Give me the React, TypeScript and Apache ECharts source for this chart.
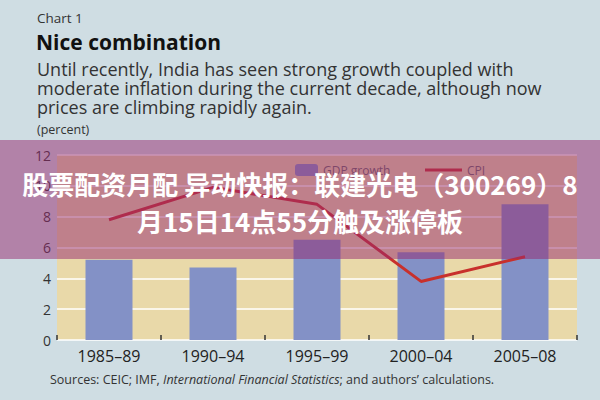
import React, { useEffect, useRef } from "react";
import * as echarts from "echarts";

const categories = ["1985–89", "1990–94", "1995–99", "2000–04", "2005–08"];
const gdpGrowth = [5.2, 4.7, 6.5, 5.7, 8.8];
const cpi = [7.8, 9.9, 8.8, 3.8, 5.4];
const yMin = 0;
const yMax = 12;
const yInterval = 2;

const chartLabel = "Chart 1";
const chartTitle = "Nice combination";
const subtitleLines = [
  "Until recently, India has seen strong growth coupled with",
  "moderate inflation during the current decade, although now",
  "prices are climbing rapidly again.",
];
const unitLabel = "(percent)";
const bannerLines = [
  "股票配资月配 异动快报：联建光电（300269）8",
  "月15日14点55分触及涨停板",
];

export default function App() {
  const ref = useRef<HTMLDivElement>(null);
  useEffect(() => {
    document.body.style.margin = "0";
    const chart = echarts.init(ref.current!, null, { renderer: "svg" });
    const latin = "'Open Sans', 'Liberation Sans', sans-serif";
    chart.setOption({
      animation: false,
      backgroundColor: "#cfdde3",
      textStyle: { fontFamily: latin },
      grid: {
        left: 57,
        right: 23,
        top: 155,
        bottom: 60,
        show: true,
        backgroundColor: "#e9d9a9",
        borderWidth: 0,
      },
      legend: [
        {
          data: ["GDP growth"],
          left: 290,
          top: 159,
          itemWidth: 23,
          itemHeight: 12,
          itemGap: 5,
          textStyle: { color: "#666", fontSize: 12, fontFamily: latin },
        },
        {
          data: [{ name: "CPI", icon: "rect" }],
          left: 420,
          top: 159,
          itemWidth: 37,
          itemHeight: 3,
          itemStyle: { color: "#c8302c" },
          textStyle: { color: "#666", fontSize: 12, fontFamily: latin },
        },
      ],
      xAxis: {
        type: "category",
        data: categories,
        axisLine: { show: false },
        axisTick: {
          show: true,
          inside: true,
          length: 5,
          lineStyle: { color: "#333", width: 1.5 },
        },
        axisLabel: { color: "#222", fontSize: 16, margin: 8, fontFamily: latin },
      },
      yAxis: {
        type: "value",
        min: yMin,
        max: yMax,
        interval: yInterval,
        axisLine: { show: false },
        axisTick: { show: false },
        axisLabel: { color: "#333", fontSize: 14, margin: 6, fontFamily: latin },
        splitLine: { show: true, lineStyle: { color: "#ffffff", width: 1.5 } },
      },
      series: [
        {
          name: "GDP growth",
          type: "bar",
          data: gdpGrowth,
          barWidth: 47,
          itemStyle: { color: "#8391c6" },
          z: 2,
        },
        {
          name: "CPI",
          type: "line",
          data: cpi,
          showSymbol: false,
          symbol: "none",
          lineStyle: { color: "#c8302c", width: 3 },
          itemStyle: { color: "#c8302c" },
          z: 3,
        },
      ],
      graphic: [
        {
          type: "text",
          left: 37,
          top: 11,
          style: { text: chartLabel, fill: "#333", font: "13.5px " + latin },
        },
        {
          type: "text",
          left: 36,
          top: 31,
          style: { text: chartTitle, fill: "#111", font: "bold 21px " + latin },
        },
        ...subtitleLines.map((t, i) => ({
          type: "text",
          left: 37,
          top: 60 + i * 19,
          style: { text: t, fill: "#333", font: "18px " + latin },
        })),
        {
          type: "text",
          left: 37,
          top: 123,
          style: { text: unitLabel, fill: "#333", font: "12.5px " + latin },
        },
        {
          type: "text",
          left: 50,
          top: 373,
          style: {
            text: "{n|Sources: CEIC; IMF, }{i|International Financial Statistics}{n|; and authors’ calculations.}",
            rich: {
              n: { fill: "#333", fontSize: 12.5, fontFamily: latin },
              i: { fill: "#333", fontSize: 12.5, fontFamily: latin, fontStyle: "italic" },
            },
          },
        },
        {
          type: "rect",
          shape: { x: 0, y: 140, width: 600, height: 119 },
          style: { fill: "rgba(150,40,110,0.5)" },
          z: 100,
        },
        ...bannerLines.map((t, i) => ({
          type: "text",
          x: 300,
          y: 183 + i * 37,
          z: 101,
          style: {
            text: t,
            fill: "#ffffff",
            font: "bold 26px 'Noto Sans CJK SC', sans-serif",
            align: "center",
            verticalAlign: "middle",
          },
        })),
      ],
    });
    return () => chart.dispose();
  }, []);
  return (
    <div
      ref={ref}
      style={{ position: "absolute", left: 0, top: 0, width: 600, height: 400 }}
    />
  );
}
